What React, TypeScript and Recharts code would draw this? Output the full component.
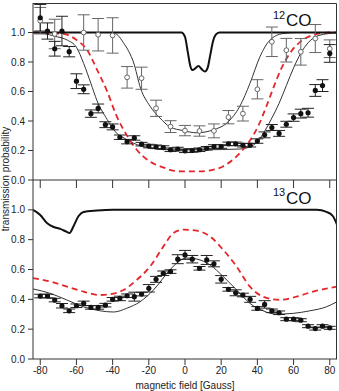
import React from "react";
import { ComposedChart, ErrorBar, Line, Scatter, XAxis, YAxis } from "recharts";

// magnetic field grid of the measured points (Gauss)
const fieldSteps = [
  -80, -76, -72, -68, -64, -60, -56, -52, -48, -44, -40, -36, -32, -28, -24, -20, -16, -12, -8, -4, 0,
  4, 8, 12, 16, 20, 24, 28, 32, 36, 40, 44, 48, 52, 56, 60, 64, 68, 72, 76, 80,
];

// 12CO, filled points
const co12Filled = [
  1.1, 1.01, 0.89, 1.01, 0.87, 0.67, 0.615, 0.45, 0.485, 0.375, 0.36, 0.29, 0.26, 0.285, 0.243, 0.23,
  0.225, 0.22, 0.205, 0.21, 0.198, 0.2, 0.205, 0.215, 0.227, 0.227, 0.245, 0.245, 0.236, 0.236, 0.264,
  0.306, 0.356, 0.316, 0.378, 0.423, 0.45, 0.456, 0.607, 0.64, 0.858,
];
const co12FilledErr = [
  0.09, 0.055, 0.05, 0.1, 0.035, 0.05, 0.03, 0.025, 0.03, 0.02, 0.02, 0.015, 0.015, 0.015, 0.012, 0.012,
  0.012, 0.012, 0.012, 0.012, 0.012, 0.012, 0.012, 0.012, 0.012, 0.012, 0.012, 0.012, 0.012, 0.012, 0.015,
  0.02, 0.02, 0.02, 0.02, 0.025, 0.03, 0.03, 0.04, 0.04, 0.06,
];

// 12CO, open points
const co12OpenField = [-80, -72, -56, -48, -40, -32, -24, -16, -8, 0, 8, 16, 24, 32, 40, 48, 56, 64, 72, 80];
const co12Open = [
  1.08, 0.99, 1.0, 0.985, 0.98, 0.696, 0.69, 0.486, 0.362, 0.335, 0.332, 0.333, 0.426, 0.45, 0.615, 0.937,
  0.88, 0.869, 0.959, 0.89,
];
const co12OpenErr = [
  0.09, 0.1, 0.12, 0.11, 0.12, 0.073, 0.075, 0.055, 0.04, 0.035, 0.035, 0.047, 0.045, 0.05, 0.065, 0.1, 0.08,
  0.09, 0.095, 0.06,
];

// 12CO model curves
const co12ThickX = [-84, -2, 0, 1.5, 3, 4.2, 5.5, 7.4, 9.3, 11, 12.5, 14, 15.5, 17, 19, 84];
const co12ThickY = [1, 1, 0.97, 0.87, 0.77, 0.745, 0.755, 0.773, 0.75, 0.735, 0.76, 0.85, 0.94, 0.985, 1, 1];

const co12FitFilledX = [
  -84, -78, -72, -65, -60, -56, -52, -48.7, -43, -38, -33, -28.5, -19, -8, 10, 30, 36, 40, 44, 48, 52, 56, 60,
  64, 68, 74, 84,
];
const co12FitFilledY = [
  1.0, 0.993, 0.975, 0.948, 0.9, 0.79, 0.655, 0.54, 0.41, 0.32, 0.28, 0.25, 0.216, 0.205, 0.205, 0.21, 0.225,
  0.26, 0.33, 0.42, 0.52, 0.64, 0.76, 0.86, 0.93, 0.98, 0.998,
];

const co12FitOpenX = [
  -84, -40, -37, -34, -31, -28.5, -24.5, -19.3, -13.8, -8.3, -1, 6.5, 15.6, 23, 30.3, 35.9, 41.4, 46.9, 54.2,
  62, 84,
];
const co12FitOpenY = [
  1.0, 1.0, 0.98, 0.93, 0.87, 0.8, 0.62, 0.5, 0.42, 0.36, 0.335, 0.32, 0.34, 0.385, 0.5, 0.655, 0.835, 0.948,
  0.993, 1.0, 1.0,
];

const co12DashX = [
  -84, -67, -60, -54, -48.7, -43, -38, -32, -27, -20, -12, -6, 0, 8, 14, 21, 28.5, 36, 41, 45, 49, 53, 58, 64,
  70, 80, 84,
];
const co12DashY = [
  1.0, 0.99, 0.95, 0.88, 0.75, 0.6, 0.44, 0.3, 0.21, 0.13, 0.085, 0.062, 0.058, 0.058, 0.065, 0.092, 0.16,
  0.27, 0.38, 0.5, 0.63, 0.75, 0.86, 0.94, 0.98, 1.0, 1.0,
];

// 13CO, filled points
const co13Filled = [
  0.422, 0.422, 0.395, 0.357, 0.323, 0.357, 0.373, 0.346, 0.346, 0.361, 0.4, 0.406, 0.424, 0.418, 0.435,
  0.474, 0.534, 0.575, 0.586, 0.669, 0.698, 0.669, 0.608, 0.664, 0.638, 0.534, 0.467, 0.444, 0.429, 0.4,
  0.339, 0.366, 0.323, 0.31, 0.267, 0.267, 0.26, 0.22, 0.204, 0.22, 0.209,
];
const co13FilledErr = [
  0.012, 0.012, 0.012, 0.015, 0.012, 0.012, 0.015, 0.012, 0.012, 0.012, 0.012, 0.015, 0.012, 0.03, 0.012,
  0.025, 0.02, 0.015, 0.012, 0.03, 0.03, 0.025, 0.012, 0.03, 0.02, 0.025, 0.012, 0.02, 0.012, 0.02, 0.012,
  0.025, 0.012, 0.012, 0.01, 0.01, 0.01, 0.01, 0.01, 0.01, 0.01,
];

// 13CO model curves
const co13ThickX = [-84, -80, -76.3, -72.6, -68.9, -65.3, -63.8, -61.6, -58.9, -56.1, -48.7, -40, 72.7, 78.2, 81.8, 84];
const co13ThickY = [1.0, 0.966, 0.912, 0.885, 0.872, 0.852, 0.845, 0.89, 0.957, 0.986, 0.995, 1.0, 1.0, 0.986, 0.957, 0.9];

const co13FitX = [
  -84, -74.5, -65.3, -56.1, -46.9, -39.5, -32.2, -24.8, -17.4, -8.3, -4.6, 0.9, 6.5, 13.8, 21.1, 28.5, 35.9,
  43.2, 50.6, 59.8, 69, 78.2, 84,
];
const co13FitY = [
  0.47, 0.44, 0.396, 0.35, 0.323, 0.315, 0.34, 0.384, 0.463, 0.598, 0.643, 0.677, 0.67, 0.631, 0.553, 0.463,
  0.373, 0.323, 0.301, 0.306, 0.323, 0.35, 0.384,
];

const co13DashX = [
  -84, -74.5, -65.3, -56.1, -46.9, -41.4, -34, -26.7, -19.3, -11.9, -6.4, -0.9, 6.5, 13.8, 21.1, 28.5, 35.9,
  43.2, 52.4, 61.6, 70.8, 84,
];
const co13DashY = [
  0.542, 0.519, 0.485, 0.452, 0.429, 0.434, 0.463, 0.53, 0.62, 0.755, 0.845, 0.867, 0.86, 0.822, 0.732, 0.62,
  0.485, 0.418, 0.396, 0.418, 0.452, 0.485,
];

const xTicks = [-80, -60, -40, -20, 0, 20, 40, 60, 80];
const yTicks = [0, 0.2, 0.4, 0.6, 0.8, 1.0];

const zip = (xs: number[], ys: number[]) => xs.map((x, i) => ({ x, y: ys[i] }));
const withErr = (xs: number[], ys: number[], es: number[]) => xs.map((x, i) => ({ x, y: ys[i], err: es[i] }));

const W = 339;
const AXIS = "#333";
const RED = "#e3262b";
const tickStyle = { fontSize: 10, fill: "#222" };

const FilledDot = (p: any) => <circle cx={p.cx} cy={p.cy} r={2.6} fill="#111" />;
const OpenDot = (p: any) => <circle cx={p.cx} cy={p.cy} r={2.4} fill="#fff" stroke="#666" strokeWidth={1} />;

export default function App() {
  return (
    <div
      style={{
        position: "absolute",
        left: 0,
        top: 0,
        width: W,
        height: 391,
        background: "#fff",
        fontFamily: "'Liberation Sans', Arial, sans-serif",
      }}
    >
      <div style={{ position: "absolute", left: 0, top: 0 }}>
        <ComposedChart width={W} height={190} margin={{ top: 3, right: 2, bottom: 0, left: 0 }}>
          <XAxis
            dataKey="x"
            type="number"
            domain={[-84, 84]}
            ticks={xTicks}
            allowDataOverflow
            height={10}
            tickSize={8}
            tickFormatter={() => ""}
            stroke={AXIS}
          />
          <YAxis
            type="number"
            domain={[0, 1.2]}
            ticks={yTicks}
            allowDataOverflow
            width={33}
            tickSize={5}
            tickMargin={3}
            tick={tickStyle}
            tickFormatter={(v: number) => v.toFixed(1)}
            stroke={AXIS}
          />
          <Line data={zip(co12FitFilledX, co12FitFilledY)} dataKey="y" type="monotone" stroke="#333" strokeWidth={1} dot={false} isAnimationActive={false} />
          <Line data={zip(co12FitOpenX, co12FitOpenY)} dataKey="y" type="monotone" stroke="#333" strokeWidth={1} dot={false} isAnimationActive={false} />
          <Line data={zip(co12DashX, co12DashY)} dataKey="y" type="monotone" stroke={RED} strokeWidth={1.8} strokeDasharray="6 4" dot={false} isAnimationActive={false} />
          <Line data={zip(co12ThickX, co12ThickY)} dataKey="y" type="monotone" stroke="#111" strokeWidth={2} dot={false} isAnimationActive={false} />
          <Scatter data={withErr(co12OpenField, co12Open, co12OpenErr)} dataKey="y" shape={OpenDot} isAnimationActive={false}>
            <ErrorBar dataKey="err" direction="y" width={6} stroke="#666" strokeWidth={1} />
          </Scatter>
          <Scatter data={withErr(fieldSteps, co12Filled, co12FilledErr)} dataKey="y" shape={FilledDot} isAnimationActive={false}>
            <ErrorBar dataKey="err" direction="y" width={6} stroke="#222" strokeWidth={1} />
          </Scatter>
        </ComposedChart>
      </div>

      <div style={{ position: "absolute", left: 0, top: 0 }}>
        <ComposedChart width={W} height={391} margin={{ top: 180, right: 2, bottom: 0, left: 0 }}>
          <XAxis
            dataKey="x"
            type="number"
            domain={[-84, 84]}
            ticks={xTicks}
            allowDataOverflow
            height={32}
            tickSize={6}
            tickMargin={2}
            tick={tickStyle}
            stroke={AXIS}
            label={{ value: "magnetic field [Gauss]", position: "insideBottom", offset: 2, fontSize: 10, fill: "#222" }}
          />
          <YAxis
            type="number"
            domain={[0, 1.2]}
            ticks={yTicks}
            allowDataOverflow
            width={33}
            tickSize={5}
            tickMargin={3}
            tick={tickStyle}
            tickFormatter={(v: number) => v.toFixed(1)}
            stroke={AXIS}
          />
          <Line data={zip(co13FitX, co13FitY)} dataKey="y" type="monotone" stroke="#333" strokeWidth={1} dot={false} isAnimationActive={false} />
          <Line data={zip(co13DashX, co13DashY)} dataKey="y" type="monotone" stroke={RED} strokeWidth={1.8} strokeDasharray="6 4" dot={false} isAnimationActive={false} />
          <Line data={zip(co13ThickX, co13ThickY)} dataKey="y" type="monotone" stroke="#111" strokeWidth={2} dot={false} isAnimationActive={false} />
          <Scatter data={withErr(fieldSteps, co13Filled, co13FilledErr)} dataKey="y" shape={FilledDot} isAnimationActive={false}>
            <ErrorBar dataKey="err" direction="y" width={6} stroke="#222" strokeWidth={1} />
          </Scatter>
        </ComposedChart>
      </div>

      <svg width={W} height={391} style={{ position: "absolute", left: 0, top: 0, pointerEvents: "none" }}>
        <path d="M33,3.5 H336.5 V359" fill="none" stroke={AXIS} strokeWidth={1} />
        <text transform="rotate(-90)" x={-179} y={9} textAnchor="middle" fontSize={10} fill="#222">
          transmission probability
        </text>
        <text x={273} y={19} fontSize={11} fill="#111">12</text>
        <text x={286} y={26} fontSize={17} fill="#111">CO</text>
        <text x={273} y={196} fontSize={11} fill="#111">13</text>
        <text x={286} y={204} fontSize={17} fill="#111">CO</text>
      </svg>
    </div>
  );
}
